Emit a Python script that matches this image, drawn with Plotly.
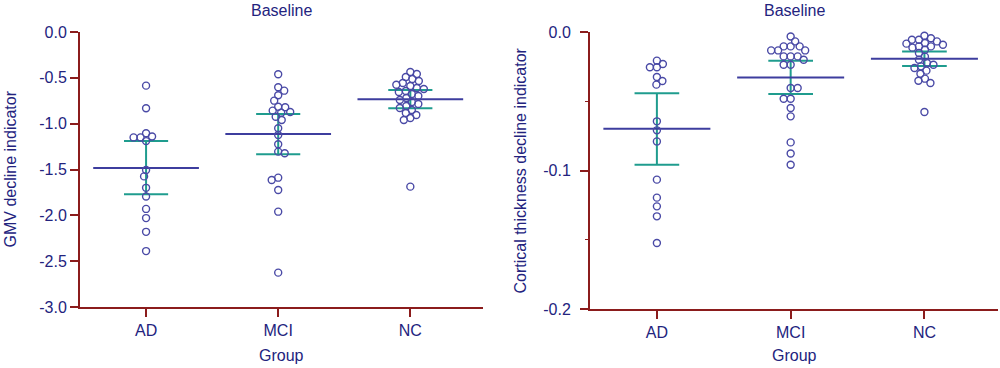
import numpy as np
import plotly.graph_objects as go

# ---------------- data ----------------
groups = ["AD", "MCI", "NC"]

gmv_ad = [-0.585, -0.832, -1.105, -1.15, -1.15, -1.14, -1.19, -1.505, -1.575,
          -1.70, -1.795, -1.93, -2.03, -2.18, -2.39]
gmv_mci = [-0.461, -0.603, -0.640, -0.690, -0.749, -0.815, -0.821, -0.858, -0.872,
           -0.880, -0.924, -0.960, -1.050, -1.123, -1.225, -1.305, -1.323, -1.589,
           -1.614, -1.723, -1.960, -2.625]
gmv_nc = [-0.436, -0.458, -0.491, -0.513, -0.534, -0.556, -0.575, -0.589, -0.611,
          -0.622, -0.643, -0.654, -0.676, -0.698, -0.720, -0.742, -0.763, -0.785,
          -0.807, -0.829, -0.851, -0.883, -0.905, -0.938, -0.960, -1.687]
gmv_mean = [-1.483, -1.112, -0.734]
gmv_ci_hi = [-1.19, -0.894, -0.633]
gmv_ci_lo = [-1.77, -1.334, -0.832]

ct_ad = [-0.0207, -0.0231, -0.0255, -0.0255, -0.0325, -0.0354, -0.0380, -0.0645,
         -0.0710, -0.0790, -0.1066, -0.1196, -0.1259, -0.1331, -0.1524]
ct_mci = [-0.0032, -0.0068, -0.0104, -0.0104, -0.0104, -0.0133, -0.0133, -0.0133,
          -0.0176, -0.0176, -0.0176, -0.0200, -0.0236, -0.0236, -0.0404, -0.0404,
          -0.0482, -0.0482, -0.0549, -0.0609, -0.0797, -0.0877, -0.0958]
ct_nc = [-0.0027, -0.0045, -0.0056, -0.0056, -0.0068, -0.0079, -0.0084, -0.0092,
         -0.0104, -0.0104, -0.0113, -0.0128, -0.0152, -0.0178, -0.0200, -0.0224,
         -0.0236, -0.0248, -0.0260, -0.0279, -0.0301, -0.0337, -0.0352, -0.0368,
         -0.0578]
ct_mean = [-0.0698, -0.0328, -0.0193]
ct_ci_hi = [-0.0443, -0.0207, -0.0140]
ct_ci_lo = [-0.0958, -0.0448, -0.0246]

gmv_ticks = [0.0, -0.5, -1.0, -1.5, -2.0, -2.5, -3.0]
gmv_ticklabels = ["0.0", "-0.5", "-1.0", "-1.5", "-2.0", "-2.5", "-3.0"]
ct_ticks = [0.0, -0.1, -0.2]
ct_ticklabels = ["0.0", "-0.1", "-0.2"]
ct_minor = [-0.05, -0.15]

# ---------------- style / layout ----------------
W, H = 1000, 368
AX = "#8b1c1c"
TXT = "#23237e"
MK = "#4a4aa6"
MEAN_C = "#3d3d9e"
CI_C = "#1f9c8e"
FONT = "Liberation Sans, Arial, sans-serif"

XR = [-0.5, 2.55]
panels = [
    dict(xd=[80 / W, 483 / W], yd=[(H - 307) / H, (H - 32) / H], yr=[-3.0, 0.0],
         data=[gmv_ad, gmv_mci, gmv_nc], mean=gmv_mean, hi=gmv_ci_hi, lo=gmv_ci_lo,
         ticks=gmv_ticks, labels=gmv_ticklabels, ytitle="GMV decline indicator",
         ytx=10, standoff=0),
    dict(xd=[590 / W, 998 / W], yd=[(H - 309) / H, (H - 32) / H], yr=[-0.2, 0.0],
         data=[ct_ad, ct_mci, ct_nc], mean=ct_mean, hi=ct_ci_hi, lo=ct_ci_lo,
         ticks=ct_ticks, labels=ct_ticklabels,
         ytitle="Cortical thickness decline indicator", ytx=520, standoff=6),
]

MSIZE = 7
DIAM = 6.6


def swarm(vals, xpx, ypx, d):
    vals = np.asarray(vals, dtype=float)
    order = np.argsort(-vals, kind="stable")
    placed = []
    xs = np.zeros(len(vals))
    flip = 1
    for i in order:
        y = vals[i] * ypx
        best = None
        k = 0
        while best is None:
            sides = [0.0] if k == 0 else [flip, -flip]
            for s in sides:
                off = s * k * 0.5
                if all((off - px) ** 2 + (y - py) ** 2 >= d * d for px, py in placed):
                    best = off
                    break
            k += 1
        if best != 0:
            flip = -flip
        placed.append((best, y))
        xs[i] = best / xpx
    return xs


fig = go.Figure()
layout = dict(template="none", width=W, height=H,
              margin=dict(l=0, r=0, t=0, b=0, pad=0, autoexpand=False),
              paper_bgcolor="white", plot_bgcolor="white", showlegend=False,
              font=dict(family=FONT, size=16, color=TXT))
annotations = []

for p_i, p in enumerate(panels):
    sfx = "" if p_i == 0 else str(p_i + 1)
    xa, ya = "x" + sfx, "y" + sfx
    xpx = (p["xd"][1] - p["xd"][0]) * W / (XR[1] - XR[0])
    ypx = (p["yd"][1] - p["yd"][0]) * H / (p["yr"][1] - p["yr"][0])

    for g in range(3):
        m, hi, lo = p["mean"][g], p["hi"][g], p["lo"][g]
        fig.add_trace(go.Scatter(x=[g, g], y=[lo, hi], mode="lines",
                                 line=dict(color=CI_C, width=2), xaxis=xa, yaxis=ya,
                                 hoverinfo="skip"))
        for v in (lo, hi):
            fig.add_trace(go.Scatter(x=[g - 0.167, g + 0.167], y=[v, v], mode="lines",
                                     line=dict(color=CI_C, width=2), xaxis=xa, yaxis=ya,
                                     hoverinfo="skip"))
        fig.add_trace(go.Scatter(x=[g - 0.4, g + 0.4], y=[m, m], mode="lines",
                                 line=dict(color=MEAN_C, width=2), xaxis=xa, yaxis=ya,
                                 hoverinfo="skip"))
    for g in range(3):
        vals = p["data"][g]
        offs = swarm(vals, xpx, ypx, DIAM)
        fig.add_trace(go.Scatter(x=g + offs, y=vals, mode="markers",
                                 marker=dict(symbol="circle-open", size=MSIZE,
                                             color=MK, line=dict(width=1.4, color=MK)),
                                 xaxis=xa, yaxis=ya, cliponaxis=False))

    xkey = "xaxis" + sfx
    ykey = "yaxis" + sfx
    layout[xkey] = dict(domain=p["xd"], range=XR, anchor=ya, tickvals=[0, 1, 2],
                        ticktext=groups, showline=True, linecolor=AX, linewidth=2,
                        ticks="outside", ticklen=8, tickwidth=2, tickcolor=AX,
                        showgrid=False, zeroline=False, fixedrange=True,
                        automargin=False, tickfont=dict(size=16, color=TXT))
    ydict = dict(domain=p["yd"], range=p["yr"], anchor=xa, tickvals=p["ticks"],
                 ticktext=p["labels"], showline=True, linecolor=AX, linewidth=2,
                 ticks="outside", ticklen=8, tickwidth=2, tickcolor=AX,
                 showgrid=False, zeroline=False, fixedrange=True,
                 ticklabelstandoff=p["standoff"],
                 automargin=False, tickfont=dict(size=16, color=TXT))
    if p_i == 1:
        ydict["minor"] = dict(tickvals=ct_minor, ticks="outside", ticklen=3,
                              tickwidth=1, tickcolor=AX, showgrid=False)
    layout[ykey] = ydict

    xc = (p["xd"][0] + p["xd"][1]) / 2
    yc = (p["yd"][0] + p["yd"][1]) / 2
    annotations.append(dict(text="Baseline", x=xc, y=1 - 11 / H, xref="paper",
                            yref="paper", showarrow=False, xanchor="center",
                            yanchor="middle", font=dict(size=16, color=TXT)))
    annotations.append(dict(text="Group", x=xc, y=1 - 355 / H, xref="paper",
                            yref="paper", showarrow=False, xanchor="center",
                            yanchor="middle", font=dict(size=16, color=TXT)))
    annotations.append(dict(text=p["ytitle"], x=p["ytx"] / W, y=yc, xref="paper",
                            yref="paper", showarrow=False, xanchor="center",
                            yanchor="middle", textangle=-90,
                            font=dict(size=16, color=TXT)))

layout["annotations"] = annotations
fig.update_layout(**layout)
fig.write_html("out.html",
               config={"displayModeBar": False},
               post_script="document.body.style.margin='0px';"
                           "document.body.style.overflow='hidden';")
